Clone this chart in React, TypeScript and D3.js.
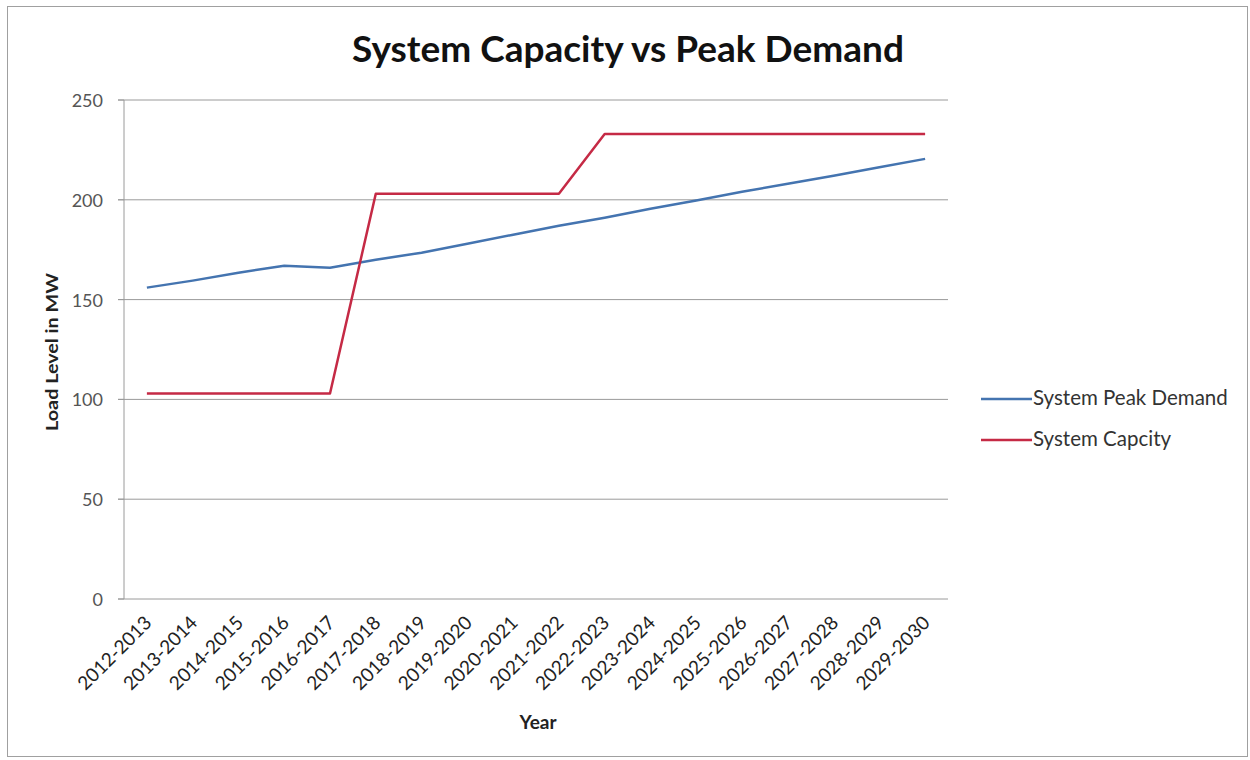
import React from "react";
import * as d3 from "d3";

const categories = [
  "2012-2013", "2013-2014", "2014-2015", "2015-2016", "2016-2017", "2017-2018",
  "2018-2019", "2019-2020", "2020-2021", "2021-2022", "2022-2023", "2023-2024",
  "2024-2025", "2025-2026", "2026-2027", "2027-2028", "2028-2029", "2029-2030",
];
const peakDemand = [156, 159.5, 163.5, 167, 166, 170, 173.5, 178, 182.5, 187, 191, 195.5, 199.7, 204, 208, 212, 216.3, 220.5];
const capacity = [103, 103, 103, 103, 103, 203, 203, 203, 203, 203, 233, 233, 233, 233, 233, 233, 233, 233];
const yTicks = [0, 50, 100, 150, 200, 250];
const seriesNames = ["System Peak Demand", "System Capcity"];
const seriesColors = ["#4474b0", "#c52a45"];

export default function App() {
  const W = 1250, H = 760;
  const left = 124, right = 948, top = 100, bottom = 599;
  const x = d3.scaleBand<string>().domain(categories).range([left, right]);
  const y = d3.scaleLinear().domain([0, 250]).range([bottom, top]);
  const cx = (c: string) => (x(c) as number) + x.bandwidth() / 2;
  const line = d3.line<number>().x((_, i) => cx(categories[i])).y((v) => y(v));
  const font = "Lato, 'Open Sans', sans-serif";
  const series = [peakDemand, capacity];

  return (
    <svg width={W} height={H} style={{ position: "absolute", left: 0, top: 0 }} fontFamily={font}>
      <rect x={0} y={0} width={W} height={H} fill="#fff" />
      <rect x={7.5} y={6.5} width={1240} height={750} fill="none" stroke="#a0a0a0" strokeWidth={1} />
      <text x={628} y={62} textAnchor="middle" fontSize={37} fontWeight="bold" fill="#111">
        System Capacity vs Peak Demand
      </text>
      {yTicks.map((t) => (
        <g key={t}>
          {t > 0 && (
            <line x1={118} x2={right} y1={y(t)} y2={y(t)} stroke="#9a9a9a" strokeWidth={1} />
          )}
          <line x1={118} x2={left} y1={y(t)} y2={y(t)} stroke="#9a9a9a" strokeWidth={1} />
          <text x={103} y={y(t) + 7} textAnchor="end" fontSize={18} fill="#555">
            {t}
          </text>
        </g>
      ))}
      <line x1={left} x2={left} y1={top} y2={bottom} stroke="#9a9a9a" strokeWidth={1} />
      <line x1={118} x2={right} y1={bottom} y2={bottom} stroke="#9a9a9a" strokeWidth={1} />
      {categories.map((c) => (
        <text
          key={c}
          transform={`translate(${cx(c) + 6},${bottom + 25}) rotate(-45)`}
          textAnchor="end"
          fontSize={19}
          fill="#222"
        >
          {c}
        </text>
      ))}
      <text x={538} y={729} textAnchor="middle" fontSize={19} fontWeight="bold" fill="#222">
        Year
      </text>
      <text
        transform={`translate(58,352) rotate(-90)`}
        textAnchor="middle"
        fontSize={17.5}
        fontWeight="bold"
        fill="#222"
        textLength={158}
        lengthAdjust="spacingAndGlyphs"
      >
        Load Level in MW
      </text>
      {series.map((s, k) => (
        <path key={k} d={line(s) || ""} fill="none" stroke={seriesColors[k]} strokeWidth={2.5} strokeLinejoin="round" />
      ))}
      {seriesNames.map((n, k) => (
        <g key={n}>
          <line x1={981} x2={1032} y1={399 + k * 41} y2={399 + k * 41} stroke={seriesColors[k]} strokeWidth={2.5} />
          <text x={1033} y={405 + k * 41} fontSize={20.5} fill="#333">
            {n}
          </text>
        </g>
      ))}
    </svg>
  );
}
